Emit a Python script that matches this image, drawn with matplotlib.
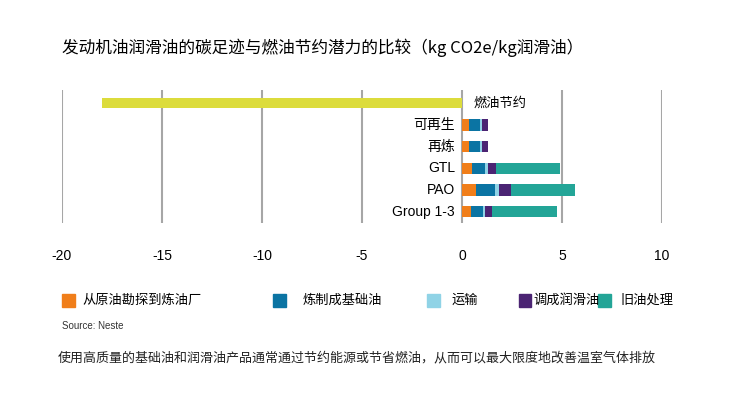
import matplotlib
matplotlib.use("Agg")
import matplotlib.pyplot as plt
from matplotlib.patches import Rectangle
import numpy as np

plt.rcParams['font.family'] = ['Liberation Sans', 'Noto Sans CJK SC', 'DejaVu Sans']

# ---- data ----
categories = ["可再生", "再炼", "GTL", "PAO", "Group 1-3"]
stages = ["从原油勘探到炼油厂", "炼制成基础油", "运输", "调成润滑油", "旧油处理"]
crude_to_refinery = [0.37, 0.37, 0.50, 0.70, 0.45]
refining_base_oil = [0.53, 0.53, 0.67, 0.97, 0.62]
transport = [0.09, 0.09, 0.13, 0.19, 0.10]
blending = [0.33, 0.33, 0.42, 0.58, 0.35]
end_of_life = [0.00, 0.00, 3.20, 3.20, 3.21]
fuel_saving_label = "燃油节约"
fuel_saving = -18.0
xticks = [-20, -15, -10, -5, 0, 5, 10]

title = "发动机油润滑油的碳足迹与燃油节约潜力的比较（kg CO2e/kg润滑油）"
source = "Source: Neste"
footnote = "使用高质量的基础油和润滑油产品通常通过节约能源或节省燃油，从而可以最大限度地改善温室气体排放"

colors = ["#F07E1A", "#0B74A3", "#90D3E6", "#4B2473", "#23A597"]
fuel_color = "#DCDC3C"

W, H = 731, 397
fig = plt.figure(figsize=(W / 100, H / 100), dpi=100)
fig.patch.set_facecolor("white")

ax = fig.add_axes([62 / W, 1 - 223 / H, 600 / W, 133 / H])
ax.set_xlim(-20, 10)
ax.set_ylim(5.53, -0.62)

# fuel saving bar
ax.barh(0, fuel_saving, height=0.47, color=fuel_color, zorder=2)
ax.annotate(fuel_saving_label, xy=(0, 0), xytext=(8, 0), textcoords="offset points",
            ha="left", va="center", fontsize=9.5, family=["Noto Sans CJK SC"])

series = [crude_to_refinery, refining_base_oil, transport, blending, end_of_life]
ypos = np.arange(1, len(categories) + 1)
left = np.zeros(len(categories))
for vals, c in zip(series, colors):
    v = np.array(vals)
    ax.barh(ypos, v, left=left, height=0.52, color=c, zorder=2)
    left += v

for y, cat in zip(ypos, categories):
    ax.annotate(cat, xy=(0, y), xytext=(-5, 0), textcoords="offset points",
                ha="right", va="center", fontsize=10)

for s in ax.spines.values():
    s.set_visible(False)
ax.set_xticks(xticks)
ax.set_xticklabels([str(t) for t in xticks])
ax.grid(axis="x", color="#A6A6A6", linewidth=1.5, zorder=1)
ax.set_axisbelow(True)
ax.tick_params(axis="x", length=0, pad=19, labelsize=10)
ax.set_yticks([])

# title
fig.text(62 / W, 1 - 48 / H, title, fontsize=12, ha="left", va="center",
         family=["Noto Sans CJK SC"])

# legend (manual, irregular spacing as in the reference)
sq_x = [62, 273, 427, 518.5, 598]
txt_x = [82, 303, 451, 533, 620]
for lab, c, sx, tx in zip(stages, colors, sq_x, txt_x):
    fig.add_artist(Rectangle((sx / W, 1 - 307 / H), 12.5 / W, 13 / H,
                             transform=fig.transFigure, color=c))
    fig.text(tx / W, 1 - 300 / H, lab, fontsize=9.5, ha="left", va="center",
             family=["Noto Sans CJK SC"])

fig.text(62 / W, 1 - 326 / H, source, fontsize=7, color="#333333", ha="left", va="center")
fig.text(58 / W, 1 - 358 / H, footnote, fontsize=9.35, style="italic", ha="left", va="center",
         family=["Noto Sans CJK SC"], color="#222222")

fig.savefig("out.png", dpi=100)
